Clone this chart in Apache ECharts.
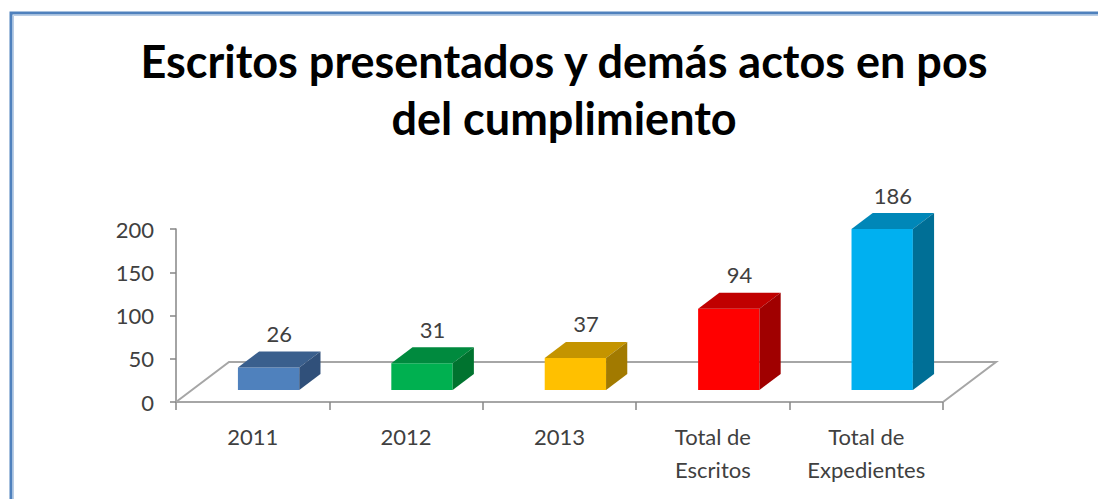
<!DOCTYPE html>
<html>
<head>
<meta charset="utf-8">
<script src="https://cdn.jsdelivr.net/npm/echarts@6/dist/echarts.min.js"></script>
<style>
html,body{margin:0;padding:0;background:#fff;}
#chart{width:1098px;height:499px;}
</style>
</head>
<body>
<div id="chart"></div>
<script>
// ---- data ----
const titleLines = ['Escritos presentados y demás actos en pos', 'del cumplimiento'];
const categories = ['2011', '2012', '2013', 'Total de\nEscritos', 'Total de\nExpedientes'];
const values = [26, 31, 37, 94, 186];
const yMin = 0, yMax = 200, yInterval = 50;

// ---- styles ----
const frontColors = ['#4F81BD', '#00B050', '#FFC000', '#FF0000', '#00B0F0'];
const topColors   = ['#3A5F8D', '#008A3E', '#C49400', '#C00000', '#0087B8'];
const sideColors  = ['#30507A', '#00732F', '#A27A00', '#A00000', '#006F96'];
const FLOOR_DX = 53, FLOOR_DY = -40;   // oblique depth of the floor
const BAR_FRONT = 0.3, BAR_DEPTH = 0.4, BAR_WIDTH = 0.4;
const FONT = 'Lato, "Open Sans", sans-serif';
const TEXT = '#404040';

const chart = echarts.init(document.getElementById('chart'), null, {renderer: 'svg'});

function floorItem(params, api) {
  const c0 = api.coord([0, 0]);
  const band = api.size([1, 0])[0];
  const xl = c0[0] - band / 2;
  const xr = xl + band * categories.length;
  const y = c0[1];
  return {
    type: 'polyline',
    shape: { points: [[xl, y], [xl + FLOOR_DX, y + FLOOR_DY], [xr + FLOOR_DX, y + FLOOR_DY], [xr, y]] },
    style: { stroke: '#A6A6A6', lineWidth: 2, fill: null },
    silent: true
  };
}

function barItem(params, api) {
  const i = api.value(0);
  const v = api.value(1);
  const base = api.coord([i, 0]);
  const top = api.coord([i, v]);
  const band = api.size([1, 0])[0];
  const w = band * BAR_WIDTH;
  const fx = FLOOR_DX * BAR_FRONT, fy = FLOOR_DY * BAR_FRONT;
  const dx = FLOOR_DX * BAR_DEPTH, dy = FLOOR_DY * BAR_DEPTH;
  const xl = base[0] + fx - w / 2, xr = xl + w;
  const yb = base[1] + fy, yt = top[1] + fy;
  return {
    type: 'group',
    children: [
      { type: 'polygon', shape: { points: [[xl, yt], [xr, yt], [xr, yb], [xl, yb]] },
        style: { fill: frontColors[i] } },
      { type: 'polygon', shape: { points: [[xl, yt], [xr, yt], [xr + dx, yt + dy], [xl + dx, yt + dy]] },
        style: { fill: topColors[i] } },
      { type: 'polygon', shape: { points: [[xr, yt], [xr, yb], [xr + dx, yb + dy], [xr + dx, yt + dy]] },
        style: { fill: sideColors[i] } },
      { type: 'text',
        style: { text: String(v), x: (xl + xr) / 2 + dx / 2, y: yt + dy - 18,
                 align: 'center', verticalAlign: 'middle',
                 font: '22px ' + FONT, fill: TEXT } }
    ]
  };
}

chart.setOption({
  backgroundColor: '#ffffff',
  animation: false,
  title: {
    text: titleLines.join('\n'),
    left: 559, top: 27, textAlign: 'center',
    textStyle: { fontFamily: FONT, fontWeight: 'bold', fontSize: 45, lineHeight: 57, color: '#000000' }
  },
  grid: { left: 176, right: 155, top: 229, bottom: 97, containLabel: false },
  xAxis: {
    type: 'category',
    data: categories,
    axisLine: { show: true, lineStyle: { color: '#A6A6A6', width: 2 } },
    axisTick: { show: true, length: 8, lineStyle: { color: '#868686', width: 1.5 } },
    axisLabel: { fontFamily: FONT, fontSize: 22, lineHeight: 33, color: TEXT, margin: 18, interval: 0 }
  },
  yAxis: {
    type: 'value',
    min: yMin, max: yMax, interval: yInterval,
    axisLine: { show: true, lineStyle: { color: '#868686', width: 1.5 } },
    axisTick: { show: true, length: 6, lineStyle: { color: '#868686', width: 1.5 } },
    splitLine: { show: false },
    axisLabel: { fontFamily: FONT, fontSize: 22, color: TEXT, margin: 22 }
  },
  graphic: [
    { type: 'polyline', shape: { points: [[11, 499], [11, 13], [1098, 13]] },
      style: { stroke: '#4F81BD', lineWidth: 3, fill: null }, silent: true },
    { type: 'polyline', shape: { points: [[13.5, 499], [13.5, 15.5], [1098, 15.5]] },
      style: { stroke: '#B9CDE5', lineWidth: 1, fill: null }, silent: true }
  ],
  series: [
    { type: 'custom', name: 'floor', renderItem: floorItem, data: [[0, 0]], z: 1, silent: true },
    { type: 'custom', name: 'valores', renderItem: barItem,
      data: values.map((v, i) => [i, v]), encode: { x: 0, y: 1 }, z: 3 }
  ]
});
</script>
</body>
</html>
